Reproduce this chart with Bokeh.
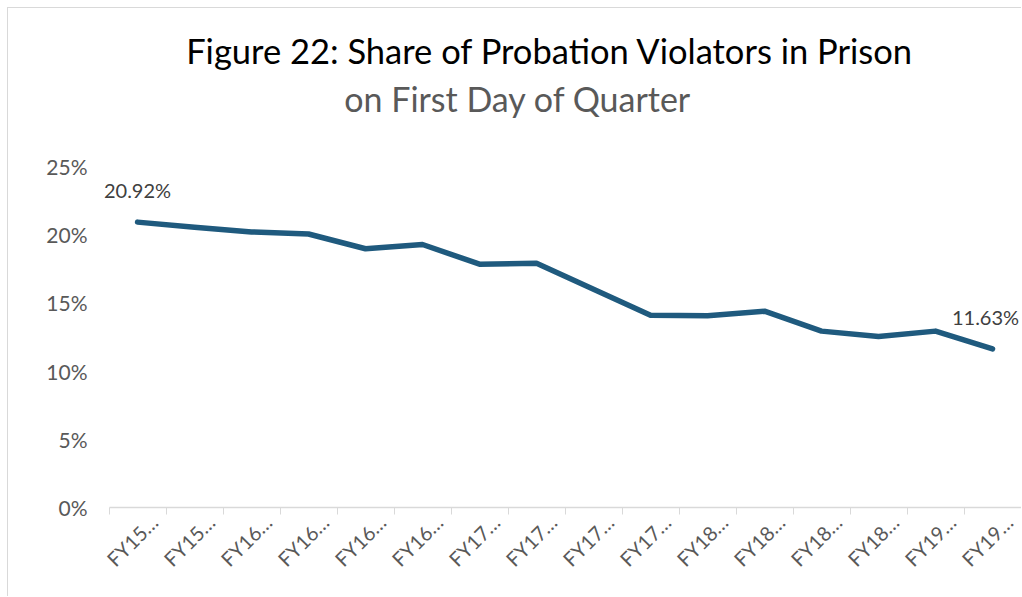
import math
from bokeh.plotting import figure
from bokeh.models import Range1d, FixedTicker, Label, ColumnDataSource, PrintfTickFormatter
from bokeh.embed import file_html
from bokeh.resources import INLINE
from bokeh.core.properties import value

# ---- data ----
quarters = ["FY15…", "FY15…", "FY16…", "FY16…", "FY16…", "FY16…",
            "FY17…", "FY17…", "FY17…", "FY17…", "FY18…", "FY18…",
            "FY18…", "FY18…", "FY19…", "FY19…"]
share = [20.92, 20.55, 20.20, 20.05, 18.97, 19.28, 17.84, 17.90,
         16.00, 14.10, 14.05, 14.39, 12.93, 12.54, 12.93, 11.63]
y_ticks = [0, 5, 10, 15, 20, 25]
title_text = "Figure 22: Share of Probation Violators in Prison"
subtitle_text = "on First Day of Quarter"

FONT = "Lato"
idx = list(range(len(quarters)))
n = len(quarters)

# frame is a bit wider/taller than the axis so that labels and titles are not clipped
Y_TOP = 36.58
X_START, X_END = -0.737, n - 1 + 0.526

p = figure(width=1014, height=589, output_backend="svg", toolbar_location=None,
           x_range=Range1d(X_START, X_END), y_range=Range1d(0, Y_TOP),
           min_border_left=87, min_border_right=0, min_border_top=0,
           min_border_bottom=90, background_fill_color="white",
           border_fill_color="white")
p.styles = {"margin-left": "7px", "margin-top": "7px",
            "border-left": "1px solid #d9d9d9", "border-top": "1px solid #d9d9d9"}
p.outline_line_color = None
p.xgrid.grid_line_color = None
p.ygrid.grid_line_color = None

p.line(idx, share, line_color="#1f5a7e", line_width=5.5, line_join="round", line_cap="round")

# data labels for first and last point
ends = [0, n - 1]
src = ColumnDataSource(dict(x=ends, y=[share[i] for i in ends],
                            t=[f"{share[i]:.2f}%" for i in ends],
                            dx=[0, -7]))
p.text(x="x", y="y", text="t", source=src, text_align="center", text_baseline="bottom",
       x_offset="dx", y_offset=-20, text_font=value(FONT), text_font_size="20px",
       text_color="#404040")

# x axis
xa = p.xaxis[0]
xa.bounds = (-0.5, n - 0.5)
xa.ticker = FixedTicker(ticks=[i + 0.29 for i in idx],
                        minor_ticks=[i - 0.5 for i in range(n + 1)])
xa.major_label_overrides = {i + 0.29: q for i, q in zip(idx, quarters)}
xa.major_label_orientation = math.pi / 4
xa.major_tick_line_color = None
xa.major_tick_out = 0
xa.major_tick_in = 0
xa.minor_tick_in = 0
xa.minor_tick_out = 7
xa.minor_tick_line_color = "#d9d9d9"
xa.axis_line_color = "#d9d9d9"
xa.axis_line_width = 1.5
xa.major_label_standoff = 4
xa.major_label_text_font = FONT
xa.major_label_text_font_size = "20px"
xa.major_label_text_color = "#595959"

# y axis
ya = p.yaxis[0]
ya.bounds = (0, 25)
ya.ticker = FixedTicker(ticks=y_ticks)
ya.formatter = PrintfTickFormatter(format="%d%%")
ya.axis_line_color = None
ya.major_tick_line_color = None
ya.minor_tick_line_color = None
ya.major_tick_out = 0
ya.major_tick_in = 0
ya.major_label_standoff = 8
ya.major_label_text_font = FONT
ya.major_label_text_font_size = "21px"
ya.major_label_text_color = "#595959"

# titles (inside the tall frame, above the 25% line)
p.add_layout(Label(x=7.237, y=33.5, text=title_text, text_align="center",
                   text_baseline="middle", text_font=FONT, text_font_size="34.5px",
                   text_color="#000000"))
p.add_layout(Label(x=6.675, y=29.98, text=subtitle_text, text_align="center",
                   text_baseline="middle", text_font=FONT, text_font_size="34px",
                   text_color="#595959"))

open("out.html", "w").write(file_html(p, INLINE))
